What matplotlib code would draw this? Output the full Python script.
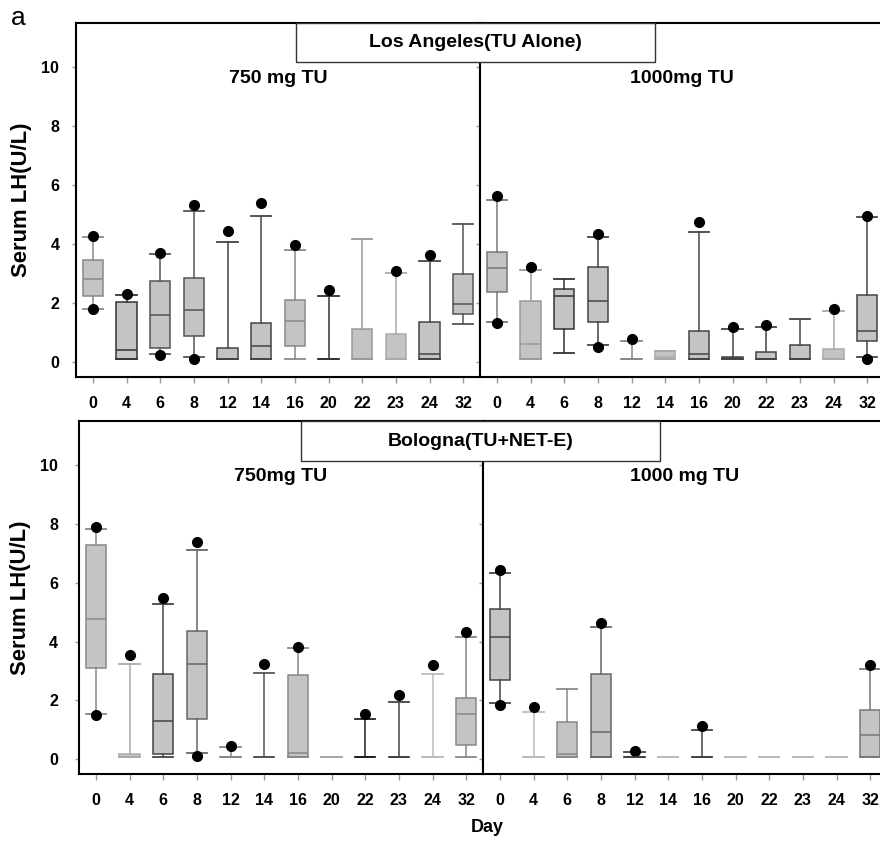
import matplotlib
matplotlib.use('Agg')
import matplotlib.pyplot as plt
from matplotlib.patches import Rectangle

plt.rcParams['font.family'] = ['Liberation Sans', 'DejaVu Sans']

days = ['0', '4', '6', '8', '12', '14', '16', '20', '22', '23', '24', '32']

# Los Angeles (TU alone), 750 mg
la750_q1 = [2.25, 0.11, 0.47, 0.90, 0.11, 0.11, 0.56, 0.11, 0.11, 0.11, 0.11, 1.65]
la750_med = [2.81, 0.43, 1.60, 1.77, 0.11, 0.56, 1.41, 0.11, 0.11, 0.11, 0.27, 1.99]
la750_q3 = [3.47, 2.03, 2.77, 2.87, 0.49, 1.34, 2.11, 0.11, 1.12, 0.95, 1.38, 2.99]
la750_lo = [1.81, 0.11, 0.27, 0.19, 0.11, 0.11, 0.11, 0.11, 0.11, 0.11, 0.11, 1.31]
la750_hi = [4.23, 2.29, 3.66, 5.12, 4.07, 4.97, 3.82, 2.25, 4.19, 3.04, 3.43, 4.69]
la750_dots = [[4.27, 1.79], [2.33], [3.69, 0.25], [5.34, 0.11], [4.46], [5.39],
              [3.98], [2.45], [], [3.11], [3.64], []]

# Los Angeles (TU alone), 1000 mg
la1000_q1 = [2.38, 0.11, 1.13, 1.38, 0.11, 0.11, 0.11, 0.11, 0.11, 0.11, 0.11, 0.73]
la1000_med = [3.18, 0.61, 2.23, 2.06, 0.11, 0.19, 0.27, 0.15, 0.11, 0.11, 0.11, 1.07]
la1000_q3 = [3.73, 2.08, 2.47, 3.22, 0.11, 0.38, 1.07, 0.17, 0.36, 0.59, 0.44, 2.29]
la1000_lo = [1.38, 0.11, 0.31, 0.59, 0.11, 0.11, 0.11, 0.11, 0.11, 0.11, 0.11, 0.17]
la1000_hi = [5.51, 3.13, 2.81, 4.25, 0.71, 0.38, 4.43, 1.13, 1.21, 1.48, 1.73, 4.92]
la1000_dots = [[5.64, 1.32], [3.22], [], [4.34, 0.53], [0.78], [], [4.76],
               [1.21], [1.27], [], [1.79], [4.97, 0.11]]

# Bologna (TU + NET-E), 750 mg
bo750_q1 = [3.12, 0.08, 0.17, 1.38, 0.08, 0.08, 0.08, 0.08, 0.08, 0.08, 0.08, 0.50]
bo750_med = [4.78, 0.08, 1.29, 3.25, 0.08, 0.08, 0.23, 0.08, 0.08, 0.08, 0.08, 1.55]
bo750_q3 = [7.27, 0.19, 2.91, 4.35, 0.08, 0.08, 2.86, 0.08, 0.08, 0.08, 0.08, 2.10]
bo750_lo = [1.55, 0.08, 0.08, 0.22, 0.08, 0.08, 0.08, 0.08, 0.08, 0.08, 0.08, 0.08]
bo750_hi = [7.83, 3.25, 5.29, 7.13, 0.42, 2.93, 3.78, 0.08, 1.38, 1.95, 2.91, 4.17]
bo750_dots = [[7.90, 1.51], [3.54], [5.50], [7.39, 0.10], [0.45], [3.25], [3.81],
              [], [1.53], [2.18], [3.22], [4.32]]

# Bologna (TU + NET-E), 1000 mg
bo1000_q1 = [2.69, 0.08, 0.08, 0.08, 0.08, 0.08, 0.08, 0.08, 0.08, 0.08, 0.08, 0.08]
bo1000_med = [4.17, 0.08, 0.17, 0.92, 0.08, 0.08, 0.08, 0.08, 0.08, 0.08, 0.08, 0.83]
bo1000_q3 = [5.12, 0.08, 1.26, 2.91, 0.08, 0.08, 0.08, 0.08, 0.08, 0.08, 0.08, 1.69]
bo1000_lo = [1.93, 0.08, 0.08, 0.08, 0.08, 0.08, 0.08, 0.08, 0.08, 0.08, 0.08, 0.08]
bo1000_hi = [6.34, 1.61, 2.39, 4.51, 0.25, 0.08, 1.01, 0.08, 0.08, 0.08, 0.08, 3.08]
bo1000_dots = [[6.42, 1.86], [1.77], [], [4.65], [0.28], [], [1.12],
               [], [], [], [], [3.22]]

# line shade of each box (the scanned figure mixes dark and light greys)
la750_edge = ['#888', '#333', '#555', '#555', '#444', '#444', '#888', '#333', '#999', '#aaa', '#444', '#555']
la1000_edge = ['#777', '#999', '#333', '#444', '#888', '#aaa', '#444', '#444', '#444', '#444', '#aaa', '#444']
bo750_edge = ['#888', '#aaa', '#444', '#666', '#888', '#555', '#888', '#aaa', '#222', '#444', '#bbb', '#888']
bo1000_edge = ['#444', '#bbb', '#888', '#666', '#444', '#bbb', '#444', '#bbb', '#bbb', '#bbb', '#bbb', '#777']

W, H = 880, 841
fig = plt.figure(figsize=(W / 100, H / 100), dpi=100)


def px(x0, y0, x1, y1):
    return [x0 / W, 1 - y1 / H, (x1 - x0) / W, (y1 - y0) / H]


def panel(rect, q1, med, q3, lo, hi, dots, edges, title, left, ypad):
    ax = fig.add_axes(rect)
    stats = []
    for i in range(len(days)):
        stats.append({'q1': q1[i], 'med': med[i], 'q3': q3[i],
                      'whislo': lo[i], 'whishi': hi[i], 'fliers': dots[i]})
    parts = ax.bxp(stats, positions=range(len(days)), widths=0.6, capwidths=0.6,
                   patch_artist=True, showfliers=True,
                   boxprops=dict(facecolor='#c4c4c4', linewidth=1.1),
                   medianprops=dict(linewidth=1.1),
                   whiskerprops=dict(linewidth=1.1),
                   capprops=dict(linewidth=1.3),
                   flierprops=dict(marker='o', markerfacecolor='black',
                                   markeredgecolor='black', markersize=7))
    for i, c in enumerate(edges):
        parts['boxes'][i].set_edgecolor(c)
        parts['medians'][i].set_color(c)
        for k in (2 * i, 2 * i + 1):
            parts['whiskers'][k].set_color(c)
            parts['caps'][k].set_color(c)
    ax.set_xlim(-0.5, 11.5)
    ax.set_ylim(-0.5, 11.5)
    ax.set_xticks(range(len(days)), days, fontsize=11.5, fontweight='bold')
    ax.set_yticks(range(0, 11, 2))
    ax.tick_params(axis='x', length=4, width=1, color='#999', pad=10)
    ax.tick_params(axis='y', length=3, width=1, color='#999', pad=ypad,
                   labelleft=left, labelsize=11.5)
    for lab in ax.get_yticklabels():
        lab.set_fontweight('bold')
    for s in ax.spines.values():
        s.set_linewidth(1.5)
        s.set_color('black')
    ax.text(0.5, 0.842, title, transform=ax.transAxes, ha='center', va='center',
            fontsize=14, fontweight='bold')
    if left:
        ax.set_ylabel('Serum LH(U/L)', fontsize=15.8, fontweight='bold', labelpad=7)
    return ax


panel(px(76, 23, 480, 377), la750_q1, la750_med, la750_q3, la750_lo, la750_hi,
      la750_dots, la750_edge, '750 mg TU', True, 9)
panel(px(480, 23, 884, 377), la1000_q1, la1000_med, la1000_q3, la1000_lo, la1000_hi,
      la1000_dots, la1000_edge, '1000mg TU', False, 9)
panel(px(79, 421, 483, 774), bo750_q1, bo750_med, bo750_q3, bo750_lo, bo750_hi,
      bo750_dots, bo750_edge, '750mg TU', True, 12)
panel(px(483, 421, 887, 774), bo1000_q1, bo1000_med, bo1000_q3, bo1000_lo, bo1000_hi,
      bo1000_dots, bo1000_edge, '1000 mg TU', False, 12)

# strip labels across both panels
for (x0, y0, x1, y1), label in [((296, 23, 655, 62), 'Los Angeles(TU Alone)'),
                                ((301, 421, 660, 461), 'Bologna(TU+NET-E)')]:
    r = px(x0, y0, x1, y1)
    fig.add_artist(Rectangle((r[0], r[1]), r[2], r[3], transform=fig.transFigure,
                             facecolor='white', edgecolor='#333', linewidth=1, zorder=5))
    fig.text(r[0] + r[2] / 2, r[1] + r[3] / 2, label, ha='center', va='center',
             fontsize=14, fontweight='bold', zorder=6)

fig.text(487 / W, 1 - 827 / H, 'Day', ha='center', va='center', fontsize=13, fontweight='bold')
fig.text(11 / W, 1 - 25 / H, 'a', ha='left', va='baseline', fontsize=19)

fig.savefig('out.png', dpi=100)
